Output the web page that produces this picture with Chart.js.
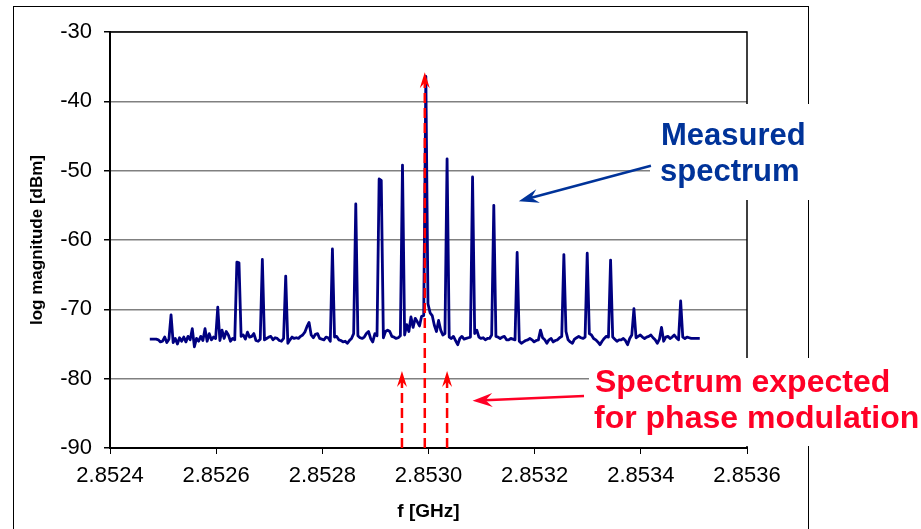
<!DOCTYPE html>
<html>
<head>
<meta charset="utf-8">
<title>Spectrum</title>
<script src="https://cdn.jsdelivr.net/npm/chart.js@4.4.1/dist/chart.umd.min.js"></script>
<style>
  html, body { margin: 0; padding: 0; background: #fff; }
  #wrap { width: 921px; height: 529px; }
</style>
</head>
<body>
<div id="wrap"><canvas id="chart" width="921" height="529"></canvas></div>
<script>
// analyzer sweep: first point and spacing, GHz
const sweepStartGHz = 2.852475;
const sweepStepGHz = 0.000004;

// measured trace in dBm, one value per sweep point
const measuredDbm = [
    -74.3, -74.3, -74.3, -74.3, -74.4, -74.7, -74.6, -74.0, -74.8, -74.3,
    -70.8, -74.8, -74.2, -75.0, -74.1, -74.6, -74.0, -74.7, -73.9, -74.4,
    -72.8, -75.4, -74.2, -74.6, -73.9, -74.5, -72.8, -74.6, -73.5, -74.4,
    -74.0, -74.2, -69.7, -74.5, -73.0, -74.2, -73.2, -73.7, -74.6, -74.2,
    -74.4, -63.2, -63.3, -73.9, -73.7, -74.3, -73.3, -74.0, -73.9, -73.5,
    -74.5, -74.6, -74.3, -62.8, -74.4, -74.2, -74.0, -73.9, -74.4, -74.1,
    -74.2, -74.5, -74.6, -74.2, -65.2, -74.9, -74.4, -74.0, -74.2, -74.1,
    -74.2, -73.9, -73.7, -73.3, -72.5, -71.9, -73.7, -74.1, -73.6, -73.5,
    -74.2, -74.3, -74.4, -74.0, -74.1, -74.6, -61.3, -74.0, -73.9, -74.4,
    -74.5, -74.7, -74.6, -74.9, -74.5, -74.2, -73.5, -54.8, -73.8, -74.1,
    -74.2, -74.0, -73.5, -73.2, -74.2, -74.7, -73.5, -73.8, -51.2, -51.4,
    -74.1, -73.2, -73.0, -73.2, -73.9, -74.0, -74.2, -74.1, -73.8, -49.2,
    -73.7, -72.2, -73.2, -71.1, -72.6, -71.3, -71.8, -72.4, -71.0, -70.9,
    -36.4, -69.2, -70.5, -70.9, -72.3, -73.2, -71.6, -73.0, -73.7, -73.5,
    -48.3, -74.0, -74.2, -73.9, -74.5, -75.1, -74.2, -73.9, -74.3, -74.2,
    -74.1, -74.0, -50.9, -73.5, -73.0, -74.0, -74.2, -74.1, -74.4, -74.2,
    -74.2, -73.7, -55.0, -73.9, -74.0, -74.2, -74.0, -73.9, -74.4, -74.4,
    -74.2, -74.3, -74.4, -61.8, -74.6, -74.9, -74.7, -74.5, -74.4, -74.2,
    -74.4, -74.7, -74.5, -74.4, -73.0, -74.1, -74.4, -74.9, -74.4, -74.2,
    -74.7, -74.5, -74.4, -74.1, -73.9, -62.1, -73.2, -74.4, -74.7, -74.9,
    -74.3, -74.1, -73.9, -74.1, -74.2, -74.0, -61.9, -73.5, -73.7, -74.2,
    -74.4, -74.7, -75.1, -74.6, -74.2, -73.9, -74.0, -62.9, -74.0, -74.3,
    -74.6, -74.4, -74.4, -74.2, -74.5, -75.1, -74.2, -73.7, -69.9, -74.1,
    -73.9, -73.7, -74.0, -74.2, -74.0, -73.9, -73.7, -74.1, -74.4, -74.9,
    -74.3, -72.6, -74.6, -74.0, -73.9, -74.2, -74.0, -73.7, -74.1, -74.4,
    -68.8, -74.0, -74.2, -74.0, -74.1, -74.2, -74.2, -74.2, -74.2, -74.2
];

// lines expected for pure phase modulation (carrier + first sidebands)
const expectedGHz = [2.852950, 2.852993, 2.853035];
const expectedDbm = [-78.9, -35.8, -78.9];

const xTicks = [2.8524, 2.8526, 2.8528, 2.8530, 2.8532, 2.8534, 2.8536];
const yTicks = [-90, -80, -70, -60, -50, -40, -30];

const NAVY = '#000080';
const BLUE = '#003399';
const RED = '#ff0026';
const FONT = "'Liberation Sans', Arial, sans-serif";

Chart.defaults.font.family = FONT;
Chart.defaults.color = '#000';

const trace = measuredDbm.map((v, i) => ({ x: sweepStartGHz + i * sweepStepGHz, y: v }));

// stealth style arrow head, tip at (x1, y1)
const arrowHead = (ctx, x0, y0, x1, y1, len, half, color) => {
    const a = Math.atan2(y1 - y0, x1 - x0);
    const c = Math.cos(a), s = Math.sin(a);
    const bx = x1 - c * len, by = y1 - s * len;
    const nx = x1 - c * len * 0.65, ny = y1 - s * len * 0.65;
    ctx.beginPath();
    ctx.moveTo(x1, y1);
    ctx.lineTo(bx - s * half, by + c * half);
    ctx.lineTo(nx, ny);
    ctx.lineTo(bx + s * half, by - c * half);
    ctx.closePath();
    ctx.fillStyle = color;
    ctx.fill();
}

const arrow = (ctx, x0, y0, x1, y1, color, width, len, half, dash) => {
    const a = Math.atan2(y1 - y0, x1 - x0);
    ctx.save();
    ctx.strokeStyle = color;
    ctx.lineWidth = width;
    ctx.setLineDash(dash || []);
    ctx.beginPath();
    ctx.moveTo(x0, y0);
    ctx.lineTo(x1 - Math.cos(a) * len * 0.6, y1 - Math.sin(a) * len * 0.6);
    ctx.stroke();
    ctx.setLineDash([]);
    arrowHead(ctx, x0, y0, x1, y1, len, half, color);
    ctx.restore();
}

const decorations = {
    id: 'decorations',
    beforeDraw: (chart) => {
        const ctx = chart.ctx;
        ctx.save();
        ctx.fillStyle = '#fff';
        ctx.fillRect(0, 0, chart.width, chart.height);
        // outer frame of the figure
        ctx.strokeStyle = '#000';
        ctx.lineWidth = 1;
        ctx.strokeRect(13.5, 6.5, 795, 540);
        ctx.restore();
    },
    afterDatasetsDraw: (chart) => {
        const ctx = chart.ctx;
        const x = chart.scales.x, y = chart.scales.y;
        const base = y.getPixelForValue(-90);
        expectedGHz.forEach((f, i) => {
            const px = x.getPixelForValue(f);
            arrow(ctx, px, base, px, y.getPixelForValue(expectedDbm[i]), '#ff0000', 2.5, 16, 5, [10, 5]);
        });
    },
    afterDraw: (chart) => {
        const ctx = chart.ctx;
        const x = chart.scales.x, y = chart.scales.y;
        const area = chart.chartArea;
        ctx.save();
        // top and right edges of the plot box
        ctx.strokeStyle = '#000';
        ctx.lineWidth = 1.5;
        ctx.beginPath();
        ctx.moveTo(area.left, area.top);
        ctx.lineTo(area.right, area.top);
        ctx.lineTo(area.right, area.bottom);
        ctx.stroke();

        // label boxes
        ctx.fillStyle = '#fff';
        ctx.fillRect(650, 104, 165, 96);
        ctx.fillRect(589, 358, 332, 88);

        ctx.textAlign = 'left';
        ctx.textBaseline = 'alphabetic';
        ctx.font = 'bold 31px ' + FONT;
        ctx.fillStyle = BLUE;
        ctx.fillText('Measured', 661, 145);
        ctx.fillText('spectrum', 660, 181);
        ctx.font = 'bold 32px ' + FONT;
        ctx.fillStyle = RED;
        ctx.fillText('Spectrum expected', 595, 392);
        ctx.fillText('for phase modulation', 594, 428);

        arrow(ctx, x.getPixelForValue(2.853419), y.getPixelForValue(-49.3),
            x.getPixelForValue(2.853170), y.getPixelForValue(-54.4), BLUE, 2.5, 20, 7);
        arrow(ctx, x.getPixelForValue(2.853293), y.getPixelForValue(-82.5),
            x.getPixelForValue(2.853083), y.getPixelForValue(-83.2), RED, 2.5, 20, 7);
        ctx.restore();
    }
}

new Chart(document.getElementById('chart'), {
    type: 'line',
    data: {
        datasets: [{
            label: 'Measured spectrum',
            data: trace,
            borderColor: NAVY,
            borderWidth: 2.8,
            borderJoinStyle: 'round',
            pointRadius: 0,
            tension: 0,
            fill: false
        }]
    },
    options: {
        responsive: false,
        animation: false,
        devicePixelRatio: 1,
        layout: { padding: { left: 0, top: 32, right: 174, bottom: 0 } },
        plugins: { legend: { display: false }, tooltip: { enabled: false } },
        scales: {
            x: {
                type: 'linear',
                min: 2.8524,
                max: 2.8536,
                afterBuildTicks: (s) => { s.ticks = xTicks.map(v => ({ value: v })) },
                afterFit: (s) => { s.height = 81 },
                ticks: {
                    callback: (v) => v.toFixed(4),
                    font: { size: 22 },
                    color: '#000',
                    padding: 9,
                    maxRotation: 0,
                    autoSkip: false
                },
                grid: { drawOnChartArea: false, color: '#000', tickLength: 6 },
                border: { color: '#000', width: 2 },
                title: {
                    display: true,
                    text: 'f [GHz]',
                    font: { size: 19, weight: 'bold' },
                    padding: { top: 0, bottom: 6 }
                }
            },
            y: {
                min: -90,
                max: -30,
                afterBuildTicks: (s) => { s.ticks = yTicks.map(v => ({ value: v })) },
                afterFit: (s) => { s.width = 110 },
                ticks: { font: { size: 22 }, color: '#000', padding: 12 },
                grid: { color: '#808080', lineWidth: 1.5, tickColor: '#000', tickLength: 6 },
                border: { color: '#000', width: 2 },
                title: {
                    display: true,
                    text: 'log magnitude [dBm]',
                    font: { size: 17, weight: 'bold' },
                    padding: { top: 27, bottom: 0 }
                }
            }
        }
    },
    plugins: [decorations]
});
</script>
</body>
</html>
